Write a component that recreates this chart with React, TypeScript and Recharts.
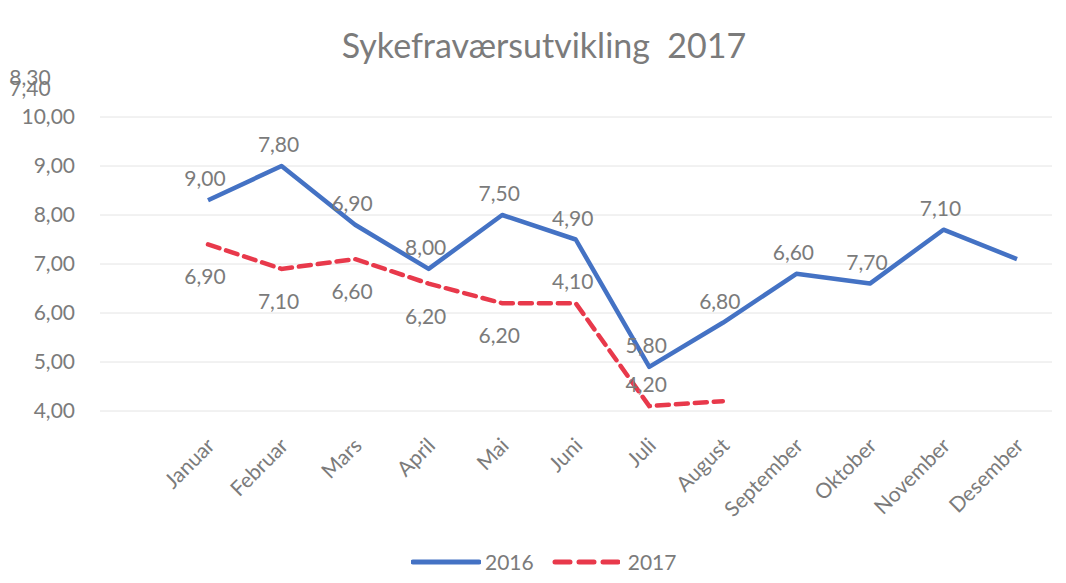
import React from "react";
import { LineChart, Line, XAxis, YAxis, CartesianGrid, LabelList } from "recharts";

// Sykefravær i prosent per måned
const months = [
  "Januar", "Februar", "Mars", "April", "Mai", "Juni",
  "Juli", "August", "September", "Oktober", "November", "Desember",
];
const sick2016 = [8.3, 9.0, 7.8, 6.9, 8.0, 7.5, 4.9, 5.8, 6.8, 6.6, 7.7, 7.1];
const sick2017 = [7.4, 6.9, 7.1, 6.6, 6.2, 6.2, 4.1, 4.2];
const yTicks = [4, 5, 6, 7, 8, 9, 10];

const data = months.map((m, i) => ({
  month: m,
  y2016: sick2016[i],
  y2017: i < sick2017.length ? sick2017[i] : null,
}));

const FONT = "Lato, 'Open Sans', sans-serif";
const GREY = "#7b7b7b";
const BLUE = "#4472c4";
const RED = "#e8394b";

const fmt = (v: number) => v.toFixed(2).replace(".", ",");

// etikettene i originalen er forskjøvet ett punkt til venstre
function shiftedLabel(values: number[], side: "above" | "below", cornerY: number) {
  return (props: any) => {
    const { x, y, index } = props;
    if (x == null || y == null) return null;
    const next = values[index + 1];
    const out: React.ReactNode[] = [];
    if (index === 0) {
      out.push(
        <text key="c" x={30} y={cornerY} textAnchor="middle" fontSize={21} fill={GREY} fontFamily={FONT}>
          {fmt(values[0])}
        </text>
      );
    }
    if (next != null) {
      const up = side === "above" || next < 5;
      out.push(
        <text
          key="l"
          x={x - 3}
          y={up ? y - 14 : y + 40}
          textAnchor="middle"
          fontSize={21}
          fill={GREY}
          fontFamily={FONT}
        >
          {fmt(next)}
        </text>
      );
    }
    return <g>{out}</g>;
  };
}

const MonthTick = (props: any) => {
  const { x, y, payload } = props;
  const tx = x + 8;
  const ty = y + 28;
  return (
    <text
      x={tx}
      y={ty}
      transform={`rotate(-45 ${tx} ${ty})`}
      textAnchor="end"
      fontSize={21}
      fill={GREY}
      fontFamily={FONT}
    >
      {payload.value}
    </text>
  );
};

export default function App() {
  return (
    <div style={{ position: "absolute", left: 0, top: 0, width: 1066, height: 583, background: "#fff", fontFamily: FONT }}>
      <div
        style={{
          position: "absolute",
          top: 24,
          left: 0,
          width: 1088,
          textAlign: "center",
          fontSize: 34,
          color: GREY,
        }}
      >
        Sykefraværsutvikling&nbsp;&nbsp;2017
      </div>
      <LineChart width={1066} height={583} data={data} margin={{ top: 117, right: 14, left: 10, bottom: 72 }}>
        <CartesianGrid vertical={false} stroke="#e4e4e4" />
        <XAxis
          dataKey="month"
          axisLine={false}
          tickLine={false}
          interval={0}
          height={100}
          padding={{ left: 108, right: 35 }}
          tick={<MonthTick />}
        />
        <YAxis
          domain={[4, 10]}
          ticks={yTicks}
          axisLine={false}
          tickLine={false}
          tickSize={0}
          tickMargin={25}
          width={90}
          tickFormatter={fmt}
          tick={{ fontSize: 21, fill: GREY, fontFamily: FONT }}
        />
        <Line
          dataKey="y2016"
          stroke={BLUE}
          strokeWidth={4.5}
          dot={false}
          strokeLinejoin="round"
          isAnimationActive={false}
        >
          <LabelList content={shiftedLabel(sick2016, "above", 85)} />
        </Line>
        <Line
          dataKey="y2017"
          stroke={RED}
          strokeWidth={4.5}
          strokeDasharray="12 7"
          strokeLinecap="round"
          dot={false}
          isAnimationActive={false}
        >
          <LabelList content={shiftedLabel(sick2017, "below", 96)} />
        </Line>
      </LineChart>
      <div
        style={{
          position: "absolute",
          top: 549,
          left: 411,
          display: "flex",
          alignItems: "center",
          fontSize: 21,
          color: GREY,
        }}
      >
        <svg width={70} height={10}>
          <line x1={2} y1={5} x2={68} y2={5} stroke={BLUE} strokeWidth={5} strokeLinecap="round" />
        </svg>
        <span style={{ marginLeft: 4, marginRight: 18 }}>2016</span>
        <svg width={68} height={10}>
          <line x1={3} y1={5} x2={66} y2={5} stroke={RED} strokeWidth={5} strokeDasharray="15 9" strokeLinecap="round" />
        </svg>
        <span style={{ marginLeft: 8 }}>2017</span>
      </div>
    </div>
  );
}
